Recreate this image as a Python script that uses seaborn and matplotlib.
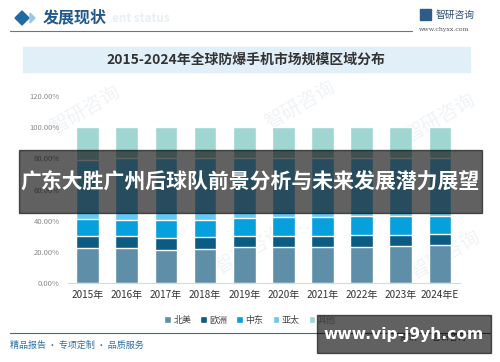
import numpy as np
import pandas as pd
import seaborn as sns
import matplotlib.pyplot as plt
from matplotlib.patches import Rectangle, Polygon

sns.set_theme(style="white")
plt.rcParams['font.family'] = ['Noto Sans CJK SC', 'DejaVu Sans']

years = ['2015年', '2016年', '2017年', '2018年', '2019年',
         '2020年', '2021年', '2022年', '2023年', '2024年E']
north_america = [22.5, 22.5, 21.4, 21.8, 23.5, 23.5, 23.5, 23.5, 24.0, 24.4]
europe = [7.5, 7.5, 7.9, 7.7, 6.9, 7.1, 7.1, 7.7, 7.2, 7.3]
middle_east = [11.3, 10.7, 11.4, 11.2, 11.4, 11.6, 11.6, 11.6, 11.6, 11.6]
asia_pacific = [37.9, 39.3, 39.5, 39.5, 38.4, 38.0, 38.0, 37.4, 37.4, 36.9]
others = [100 - a - b - c - d for a, b, c, d in
          zip(north_america, europe, middle_east, asia_pacific)]

regions = ['北美', '欧洲', '中东', '亚太', '其他']
colors = ['#5f8fa8', '#0b5b82', '#06a0dc', '#66c9f4', '#9fd6d2']

df = pd.DataFrame({'year': years, '北美': north_america, '欧洲': europe,
                   '中东': middle_east, '亚太': asia_pacific, '其他': others})
cum = df[regions].cumsum(axis=1)

fig = plt.figure(figsize=(5, 3.62), dpi=100)
ax = fig.add_axes([0.136, 0.2174, 0.783, 0.5174])
ax.set_facecolor('none')

# faint watermarks
for wx, wy in [(85, 110), (300, 105), (440, 118), (250, 250), (445, 255)]:
    fig.text(wx / 500, 1 - wy / 362, '智研咨询', fontsize=14, color='#f0f3f6',
             rotation=30, ha='center', va='center', zorder=-1)

# stacked bars: draw tallest cumulative first
for reg, col in reversed(list(zip(regions, colors))):
    sns.barplot(x=df['year'], y=cum[reg], color=col, width=0.58,
                saturation=1, ax=ax, label=reg)

ax.set_ylim(0, 120)
ax.set_xlim(-0.5, 9.5)
ax.set_yticks(range(0, 121, 20))
ax.set_yticklabels([f'{v:.2f}%' for v in range(0, 121, 20)],
                   fontsize=5.5, color='#8a8a8a')
ax.tick_params(axis='x', labelsize=7.2, colors='#333333', length=0, pad=5)
ax.tick_params(axis='y', length=0, pad=6)
ax.set_xlabel('')
ax.set_ylabel('')
for s in ['top', 'right', 'left']:
    ax.spines[s].set_visible(False)
ax.spines['bottom'].set_color('#d9d9d9')
ax.spines['bottom'].set_linewidth(0.8)

handles, labels = ax.get_legend_handles_labels()
order = [labels.index(r) for r in regions]
if ax.get_legend():
    ax.get_legend().remove()
leg = fig.legend([handles[i] for i in order], regions, loc='center',
                 bbox_to_anchor=(0.5, 1 - 320 / 362), ncol=5, frameon=False,
                 fontsize=6.5, handlelength=0.7, handleheight=0.7,
                 handletextpad=0.3, columnspacing=1.0)
for t in leg.get_texts():
    t.set_color('#404040')

# header
fig.patches.append(Polygon([(15 / 500, 1 - 18 / 362), (22 / 500, 1 - 11 / 362),
                            (29 / 500, 1 - 18 / 362), (22 / 500, 1 - 25 / 362)],
                           closed=True, color='#1f6aa3', transform=fig.transFigure))
fig.patches.append(Polygon([(30 / 500, 1 - 13 / 362), (35 / 500, 1 - 18 / 362),
                            (30 / 500, 1 - 23 / 362)],
                           closed=True, color='#9cc6e4', transform=fig.transFigure))
fig.text(43 / 500, 1 - 17 / 362, '发展现状', fontsize=11.5, color='#1f5a8c',
         fontweight='bold', va='center', ha='left')
fig.text(112 / 500, 1 - 19 / 362, 'ent status', fontsize=8.5, color='#e8eef4',
         fontweight='bold', va='center', ha='left', zorder=-1)
fig.add_artist(plt.Line2D([10 / 500, 412 / 500], [1 - 31 / 362, 1 - 31 / 362],
                          color='#4f7f9f', lw=0.8))
fig.patches.append(Rectangle((420 / 500, 1 - 20 / 362), 11 / 500, 11 / 362,
                             color='#2c5c8c', transform=fig.transFigure))
fig.text(436 / 500, 1 - 15 / 362, '智研咨询', fontsize=7, color='#2c4f7a',
         va='center', ha='left')
fig.text(419 / 500, 1 - 29 / 362, 'www.chyxx.com', fontsize=4.5, color='#555555',
         va='center', ha='left', family=['DejaVu Serif'])

# title box
fig.patches.append(Rectangle((23 / 500, 1 - 72 / 362), 447 / 500, 25 / 362,
                             color='#e1eff8', transform=fig.transFigure, zorder=0))
fig.text(246 / 500, 1 - 60 / 362, '2015-2024年全球防爆手机市场规模区域分布',
         fontsize=10, fontweight='bold', color='#333333', ha='center', va='center')

# footer
fig.add_artist(plt.Line2D([10 / 500, 490 / 500], [1 - 333 / 362, 1 - 333 / 362],
                          color='#2f6f8f', lw=0.8))
fig.text(10 / 500, 1 - 345 / 362, '精品报告 · 专项定制 · 品质服务', fontsize=6.5,
         color='#2a70a8', ha='left', va='center')
fig.text(400 / 500, 1 - 337 / 362, '资讯  ·  智研咨询', fontsize=6,
         color='#555555', ha='left', va='center')

# overlays
fig.patches.append(Rectangle((19 / 500, 1 - 213 / 362), 463 / 500, 63 / 362,
                             color='black', alpha=0.62, transform=fig.transFigure,
                             zorder=5))
fig.text(250 / 500, 1 - 181 / 362, '广东大胜广州后球队前景分析与未来发展潜力展望',
         fontsize=15, fontweight='bold', color='white', ha='center', va='center',
         zorder=6)
fig.patches.append(Rectangle((317 / 500, 1 - 353 / 362), 174 / 500, 38 / 362,
                             color='black', alpha=0.62, transform=fig.transFigure,
                             zorder=5))
fig.text(404 / 500, 1 - 335 / 362, 'www.vip-j9yh.com', fontsize=11.2,
         fontweight='bold', color='white', ha='center', va='center', zorder=6,
         family=['DejaVu Sans'])

fig.savefig('out.png', dpi=100)
